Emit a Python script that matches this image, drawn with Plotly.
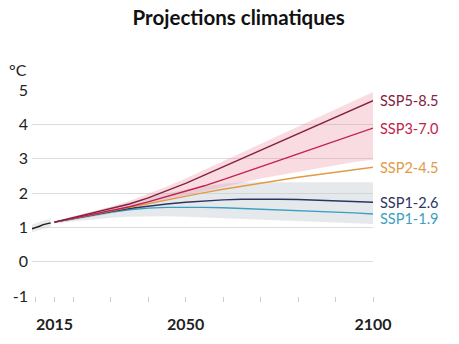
import plotly.graph_objects as go

# Observed warming (°C)
hist_years = [2009, 2010, 2011, 2012, 2013, 2014]
hist_vals = [0.96, 0.99, 1.03, 1.08, 1.11, 1.13]
hist_low = [0.86, 0.89, 0.92, 0.96, 0.99, 1.02]
hist_high = [1.08, 1.12, 1.16, 1.20, 1.23, 1.25]

# Scenario projections (°C), every 5 years
years = [2015, 2020, 2025, 2030, 2035, 2040, 2045, 2050, 2055,
         2060, 2065, 2070, 2075, 2080, 2085, 2090, 2095, 2100]
ssp585 = [1.15, 1.28, 1.40, 1.53, 1.68, 1.86, 2.06, 2.28, 2.52,
          2.76, 3.00, 3.24, 3.47, 3.71, 3.95, 4.20, 4.45, 4.69]
ssp370 = [1.15, 1.26, 1.37, 1.48, 1.60, 1.74, 1.89, 2.04, 2.21,
          2.39, 2.57, 2.76, 2.95, 3.14, 3.33, 3.52, 3.71, 3.89]
ssp245 = [1.15, 1.26, 1.37, 1.48, 1.59, 1.70, 1.81, 1.91, 2.01,
          2.11, 2.20, 2.29, 2.38, 2.46, 2.53, 2.60, 2.68, 2.75]
ssp126 = [1.15, 1.26, 1.36, 1.46, 1.55, 1.62, 1.68, 1.73, 1.77,
          1.80, 1.82, 1.83, 1.82, 1.81, 1.79, 1.77, 1.75, 1.73]
ssp119 = [1.15, 1.25, 1.35, 1.44, 1.51, 1.56, 1.58, 1.59, 1.58,
          1.57, 1.55, 1.54, 1.52, 1.50, 1.47, 1.44, 1.42, 1.39]

# Uncertainty ranges
high_low = [1.12, 1.20, 1.30, 1.40, 1.52, 1.65, 1.78, 1.92, 2.05,
            2.18, 2.30, 2.42, 2.52, 2.62, 2.72, 2.82, 2.90, 2.97]
high_up = [1.18, 1.32, 1.45, 1.60, 1.77, 1.97, 2.19, 2.42, 2.67,
           2.93, 3.18, 3.43, 3.68, 3.93, 4.18, 4.43, 4.69, 4.94]
low_low = [1.12, 1.18, 1.24, 1.28, 1.31, 1.32, 1.32, 1.31, 1.29,
           1.27, 1.25, 1.23, 1.21, 1.19, 1.17, 1.15, 1.13, 1.10]
low_up = [1.18, 1.32, 1.46, 1.60, 1.74, 1.87, 1.99, 2.10, 2.20,
          2.27, 2.31, 2.31, 2.31, 2.31, 2.31, 2.31, 2.31, 2.31]

scenarios = [
    ("SSP5-8.5", ssp585, "#86203f"),
    ("SSP3-7.0", ssp370, "#c4214a"),
    ("SSP2-4.5", ssp245, "#e29a45"),
    ("SSP1-2.6", ssp126, "#2b3563"),
    ("SSP1-1.9", ssp119, "#3a9fc2"),
]
label_y = {"SSP5-8.5": 4.69, "SSP3-7.0": 3.89, "SSP2-4.5": 2.75,
           "SSP1-2.6": 1.71, "SSP1-1.9": 1.27}

x_ticks = [2010, 2015, 2020, 2030, 2040, 2050, 2060, 2070, 2080, 2090, 2100]
x_text = ["", "2015", "", "", "", "2050", "", "", "", "", "2100"]
y_ticks = [-1, 0, 1, 2, 3, 4, 5]
y_text = ["-1", "0", "1", "2", "3", "4", "5"]

fig = go.Figure()


def band(xs, lo, hi, color):
    fig.add_trace(go.Scatter(x=xs, y=lo, mode="lines", line=dict(width=0),
                             showlegend=False, hoverinfo="skip"))
    fig.add_trace(go.Scatter(x=xs, y=hi, mode="lines", line=dict(width=0),
                             fill="tonexty", fillcolor=color,
                             showlegend=False, hoverinfo="skip"))


band(hist_years, hist_low, hist_high, "rgba(190,194,198,0.35)")
band(years, low_low, low_up, "rgba(200,206,212,0.45)")
band(years, high_low, high_up, "rgba(236,140,160,0.30)")

fig.add_trace(go.Scatter(x=hist_years, y=hist_vals, mode="lines",
                         line=dict(color="#1e1e1e", width=1.5),
                         showlegend=False))

for name, vals, color in reversed(scenarios):
    fig.add_trace(go.Scatter(x=years, y=vals, mode="lines", name=name,
                             line=dict(color=color, width=1.4),
                             showlegend=False))
    fig.add_annotation(x=2100, y=label_y[name], text=name, showarrow=False,
                       xanchor="left", yanchor="middle", xshift=5,
                       font=dict(family="Lato", size=14.5, color=color))

fig.add_annotation(x=0, xref="paper", y=5, yref="y", text="°C",
                   showarrow=False, xanchor="right", yanchor="middle",
                   xshift=-3, yshift=21,
                   font=dict(family="Lato", size=16, color="#222"))

fig.update_layout(
    width=459, height=344,
    margin=dict(l=32, r=86, t=90, b=48),
    paper_bgcolor="white", plot_bgcolor="white",
    title=dict(text="<b>Projections climatiques</b>", x=0.52, xanchor="center",
               y=1 - 18 / 344, yanchor="middle", yref="container",
               font=dict(family="Lato", size=20.5, color="#111")),
)
fig.update_xaxes(range=[2009, 2100], tickvals=x_ticks, ticktext=x_text,
                 showgrid=False, zeroline=False, showline=False,
                 ticks="outside", ticklen=5, tickcolor="#cccccc",
                 tickfont=dict(family="Lato", size=16, color="#222", weight=700),
                 ticklabelstandoff=9)
fig.update_yaxes(range=[-1, 5], tickvals=y_ticks, ticktext=y_text,
                 showgrid=True, gridcolor="#dcdcdc", gridwidth=1.3,
                 zeroline=False, showline=False, ticks="",
                 tickfont=dict(family="Lato", size=16, color="#222"),
                 ticklabelstandoff=3)

fig.write_html("out.html")
